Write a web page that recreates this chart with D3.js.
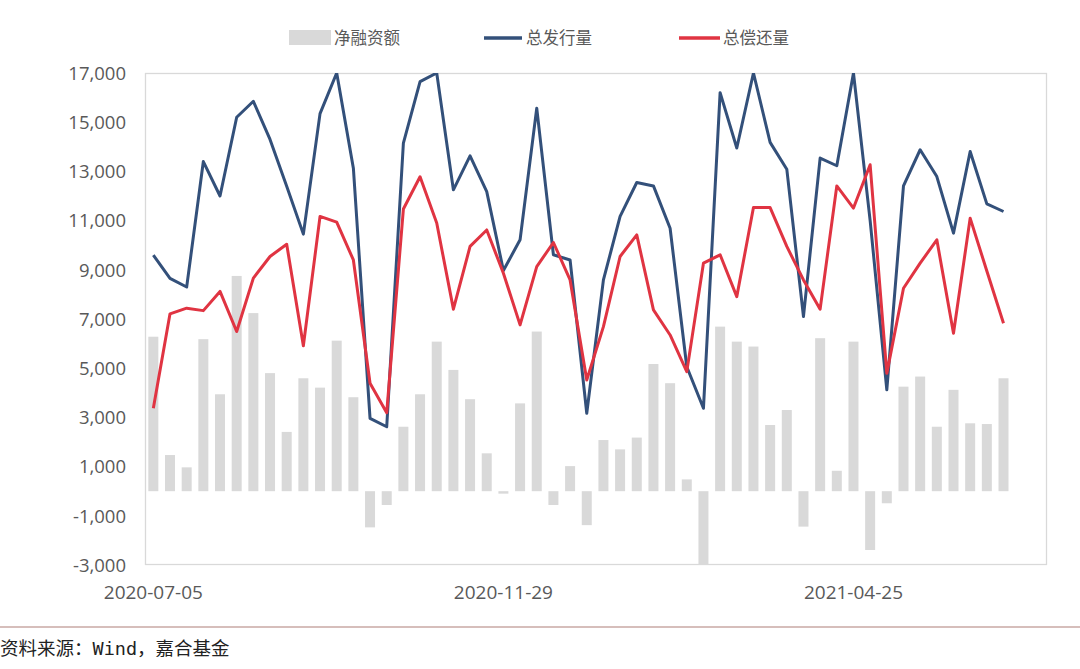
<!DOCTYPE html>
<html><head><meta charset="utf-8">
<script src="https://cdn.jsdelivr.net/npm/d3@7/dist/d3.min.js"></script>
<style>body{margin:0;background:#fff}svg{display:block}</style>
</head><body>
<svg id="c" width="1080" height="669"></svg>
<script>
const dates = ["2020-07-05","2020-07-12","2020-07-19","2020-07-26","2020-08-02","2020-08-09","2020-08-16","2020-08-23","2020-08-30","2020-09-06","2020-09-13","2020-09-20","2020-09-27","2020-10-04","2020-10-11","2020-10-18","2020-10-25","2020-11-01","2020-11-08","2020-11-15","2020-11-22","2020-11-29","2020-12-06","2020-12-13","2020-12-20","2020-12-27","2021-01-03","2021-01-10","2021-01-17","2021-01-24","2021-01-31","2021-02-07","2021-02-14","2021-02-21","2021-02-28","2021-03-07","2021-03-14","2021-03-21","2021-03-28","2021-04-04","2021-04-11","2021-04-18","2021-04-25","2021-05-02","2021-05-09","2021-05-16","2021-05-23","2021-05-30","2021-06-06","2021-06-13","2021-06-20","2021-06-27"];
const issuance = [9600,8650,8300,13400,12000,15200,15850,14300,12400,10450,15350,17000,13130,2960,2620,14150,16650,17000,12250,13630,12180,8970,10220,15570,9610,9400,3170,8590,11170,12550,12410,10690,5060,3370,16200,13950,17000,14180,13090,7100,13540,13230,17000,11000,4120,12410,13880,12790,10490,13810,11680,11370];
const redemption = [3370,7210,7440,7340,8120,6490,8660,9540,10040,5910,11170,10940,9400,4390,3190,11470,12780,10900,7400,9950,10620,8860,6760,9130,10110,8590,4520,6690,9540,10420,7370,6350,4860,9270,9610,7910,11530,11530,9950,8590,7400,12410,11510,13270,4790,8250,9270,10220,6420,11100,8950,6830];
const netFinancing = [6280,1470,970,6180,3940,8750,7240,4800,2410,4590,4210,6120,3820,-1470,-560,2620,3940,6080,4930,3740,1540,-100,3570,6490,-560,1020,-1380,2080,1700,2180,5170,4390,480,-3000,6690,6080,5880,2690,3300,-1440,6220,830,6080,-2390,-490,4250,4660,2620,4120,2760,2730,4590];
const yTicks = [-3000,-1000,1000,3000,5000,7000,9000,11000,13000,15000,17000];
const xTickLabels = ["2020-07-05","2020-11-29","2021-04-25"];
const seriesNames = ["净融资额","总发行量","总偿还量"];
const sourceText = "资料来源：Wind，嘉合基金";

const svg = d3.select("#c");
const L = 145, R = 1047, T = 73, B = 565;
const step = 16.67;
const x = d3.scaleBand().domain(dates).range([L, L + step * dates.length]).paddingInner(0.4).paddingOuter(0.2);
const xc = d => x(d) + x.bandwidth() / 2;
const y = d3.scaleLinear().domain([-3000, 17000]).range([B, T]);
const font = "'Open Sans','Noto Sans CJK SC',sans-serif";
const gray = "#595959";
const fmt = d3.formatLocale({decimal: ".", thousands: ",", grouping: [3], currency: ["", ""], minus: "-"}).format(",");

svg.append("defs").append("clipPath").attr("id","clip")
  .append("rect").attr("x", L).attr("y", T).attr("width", R - L).attr("height", B - T);

// frame
svg.append("rect").attr("x", L + 0.5).attr("y", T + 0.5).attr("width", R - L - 1).attr("height", B - T - 1)
  .attr("fill", "none").attr("stroke", "#d9d9d9").attr("stroke-width", 1.3);

const plot = svg.append("g").attr("clip-path", "url(#clip)");

plot.selectAll("rect.bar").data(dates).join("rect").attr("class","bar")
  .attr("x", d => x(d))
  .attr("width", x.bandwidth())
  .attr("y", (d, i) => y(Math.max(0, netFinancing[i])))
  .attr("height", (d, i) => Math.abs(y(netFinancing[i]) - y(0)))
  .attr("fill", "#d9d9d9");

const line = arr => d3.line().x((d, i) => xc(dates[i])).y(d => y(d))(arr);
plot.append("path").attr("d", line(issuance)).attr("fill","none").attr("stroke","#33507a").attr("stroke-width",3).attr("stroke-linejoin","round");
plot.append("path").attr("d", line(redemption)).attr("fill","none").attr("stroke","#e03442").attr("stroke-width",3).attr("stroke-linejoin","round");

// y axis
const yAxis = d3.axisLeft(y).tickValues(yTicks).tickSize(0).tickPadding(0).tickFormat(fmt);
const ya = svg.append("g").attr("transform", `translate(126,0)`).call(yAxis);
ya.select(".domain").remove();
ya.selectAll("text").attr("font-family", font).attr("font-size", 18.5).attr("fill", gray).attr("dy", "0.34em");

// x axis
const xAxis = d3.axisBottom(x).tickValues(xTickLabels).tickSize(0).tickPadding(0);
const xa = svg.append("g").attr("transform", `translate(0,${B})`).call(xAxis);
xa.select(".domain").remove();
xa.selectAll("text").attr("font-family", font).attr("font-size", 19).attr("fill", gray).attr("y", 34).attr("dy", 0);

// legend
const lg = svg.append("g").attr("font-family", font).attr("font-size", 16.5).attr("fill", gray);
lg.append("rect").attr("x", 289).attr("y", 30).attr("width", 42).attr("height", 15).attr("fill", "#d9d9d9");
lg.append("text").attr("x", 334).attr("y", 44).text(seriesNames[0]);
lg.append("line").attr("x1", 484).attr("x2", 522).attr("y1", 38).attr("y2", 38).attr("stroke", "#33507a").attr("stroke-width", 3.5);
lg.append("text").attr("x", 526).attr("y", 44).text(seriesNames[1]);
lg.append("line").attr("x1", 679).attr("x2", 720).attr("y1", 38).attr("y2", 38).attr("stroke", "#e03442").attr("stroke-width", 3.5);
lg.append("text").attr("x", 723).attr("y", 44).text(seriesNames[2]);

// separator and source
svg.append("line").attr("x1", 0).attr("x2", 1080).attr("y1", 627).attr("y2", 627).attr("stroke", "#c9a8a5").attr("stroke-width", 1.3);
svg.append("text").attr("x", 0).attr("y", 655).attr("font-family", "'DejaVu Sans Mono','Noto Sans CJK SC',monospace")
  .attr("font-size", 18.5).attr("fill", "#222").text(sourceText);
</script>
</body></html>
